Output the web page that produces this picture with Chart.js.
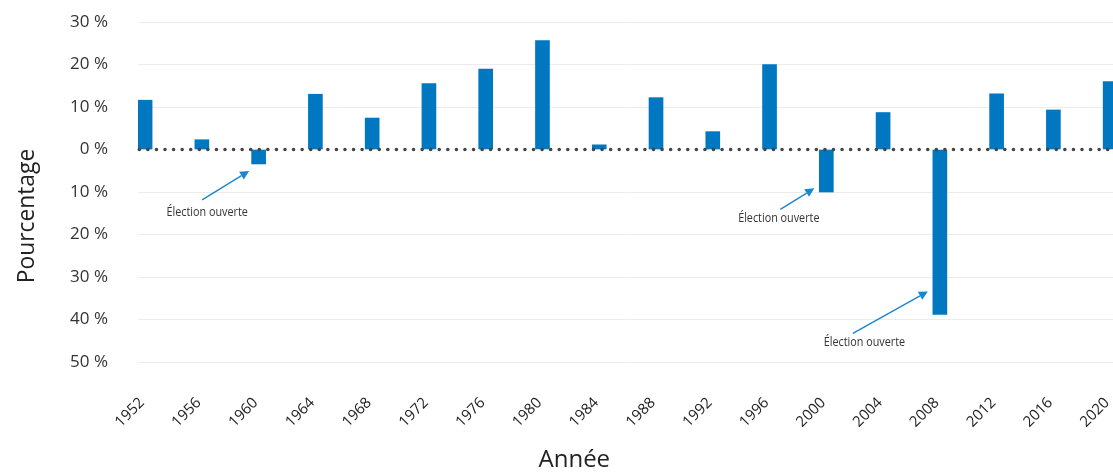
<!DOCTYPE html>
<html><head><meta charset="utf-8">
<script src="https://cdn.jsdelivr.net/npm/chart.js@4"></script>
<style>html,body{margin:0;padding:0;background:#fff}#wrap{width:1113px;height:472px;position:relative}</style>
</head><body><div id="wrap"><canvas id="c"></canvas></div>
<script>
// ---- data ----
const years = [1952,1956,1960,1964,1968,1972,1976,1980,1984,1988,1992,1996,2000,2004,2008,2012,2016,2020];
const values = [11.6,2.3,-3.4,13.0,7.4,15.5,18.9,25.6,1.1,12.2,4.2,20.0,-10.0,8.7,-38.8,13.1,9.3,16.0];
const yTickValues = [30,20,10,0,-10,-20,-30,-40,-50];
const annotationYears = [1960,2000,2008];
const annotationTexts = ['Élection ouverte','Élection ouverte','Élection ouverte'];
const xTitle = 'Année';
const yTitle = 'Pourcentage';

const FONT = "'Open Sans', 'Noto Sans', sans-serif";
const xMin = years[0] - 0.5, xMax = years[years.length-1] + 0.2;

// per-annotation pixel offsets relative to bar tip (style, not data)
const annoStyle = [
  {head:[-9.5,7], tail:[-56.5,36], text:[-51.5,48.5]},
  {head:[-12,-3.7], tail:[-46,17.3], text:[-47.5,26.3]},
  {head:[-12,-23], tail:[-87,19], text:[-75.5,28]}
];

const overlay = {
  id:'overlay',
  afterDatasetsDraw(chart){
    const {ctx, chartArea:a, scales:{x,y}} = chart;
    const y0 = y.getPixelForValue(0);
    ctx.save();
    ctx.strokeStyle = '#444';
    ctx.lineWidth = 3.6;
    ctx.lineCap = 'round';
    ctx.setLineDash([0, 8.57]);
    ctx.beginPath();
    ctx.moveTo(a.left + 1.3, y0);
    ctx.lineTo(chart.width + 5, y0);
    ctx.stroke();
    ctx.restore();
    annotationYears.forEach((yr, i) => {
      const v = values[years.indexOf(yr)];
      const bx = x.getPixelForValue(yr);
      const by = y.getPixelForValue(v);
      const s = annoStyle[i];
      const hx = bx + s.head[0], hy = by + s.head[1];
      const tx = bx + s.tail[0], ty = by + s.tail[1];
      const ang = Math.atan2(hy - ty, hx - tx);
      const hl = 9, hw = 4.5;
      const baseX = hx - hl*Math.cos(ang), baseY = hy - hl*Math.sin(ang);
      ctx.save();
      ctx.strokeStyle = '#1a86d2';
      ctx.fillStyle = '#1a86d2';
      ctx.lineWidth = 1.4;
      ctx.beginPath(); ctx.moveTo(tx, ty); ctx.lineTo(baseX, baseY); ctx.stroke();
      ctx.beginPath();
      ctx.moveTo(hx, hy);
      ctx.lineTo(baseX + hw*Math.sin(ang), baseY - hw*Math.cos(ang));
      ctx.lineTo(baseX - hw*Math.sin(ang), baseY + hw*Math.cos(ang));
      ctx.closePath(); ctx.fill();
      ctx.translate(bx + s.text[0], by + s.text[1]);
      ctx.scale(0.9, 1);
      ctx.fillStyle = '#333';
      ctx.font = "12px " + FONT;
      ctx.textAlign = 'center'; ctx.textBaseline = 'middle';
      ctx.fillText(annotationTexts[i], 0, 0);
      ctx.restore();
    });
  },
  afterDraw(chart){
    const ctx = chart.ctx;
    ctx.save();
    ctx.fillStyle = '#222';
    ctx.font = "24px " + FONT;
    ctx.textAlign = 'center'; ctx.textBaseline = 'middle';
    ctx.fillText(xTitle, chart.width * 0.516, 460);
    ctx.translate(27, 216);
    ctx.rotate(-Math.PI/2);
    ctx.font = "24px " + FONT;
    ctx.scale(0.95, 1);
    ctx.fillText(yTitle, 0, 0);
    ctx.restore();
  }
};

new Chart(document.getElementById('c'), {
  type:'bar',
  data:{
    datasets:[{
      data: years.map((yr,i)=>({x:yr, y:values[i]})),
      backgroundColor:'#0077c1',
      borderWidth:0,
      barThickness:14
    }]
  },
  options:{
    responsive:true, maintainAspectRatio:false, devicePixelRatio:1,
    animation:false,
    layout:{padding:{top:22,left:0,right:0,bottom:0}},
    plugins:{legend:{display:false}, tooltip:{enabled:false}},
    scales:{
      x:{
        type:'linear', min:xMin, max:xMax, offset:false,
        grid:{display:false, offset:false},
        border:{display:false},
        ticks:{
          stepSize:4, includeBounds:false, autoSkip:false,
          minRotation:45, maxRotation:45, padding:24, labelOffset:-3,
          color:'#222', font:{family:FONT, size:15},
          callback:(v)=> years.includes(v) ? String(v) : ''
        },
        afterFit(s){ s.height = 110; s.paddingLeft = 0; s.paddingRight = 0; }
      },
      y:{
        min:-50, max:30,
        grid:{color:(c)=> c.tick && c.tick.value === 0 ? 'rgba(0,0,0,0)' : '#ececec', drawTicks:false, lineWidth:1},
        border:{display:false},
        afterBuildTicks(s){ s.ticks = yTickValues.map(v=>({value:v})); },
        ticks:{
          padding:30, color:'#333', font:{family:FONT, size:17},
          callback:(v)=> Math.abs(v) + ' %'
        },
        afterFit(s){ s.width = 138; s.paddingTop = 0; s.paddingBottom = 0; }
      }
    }
  },
  plugins:[overlay]
});
</script>
</body></html>
